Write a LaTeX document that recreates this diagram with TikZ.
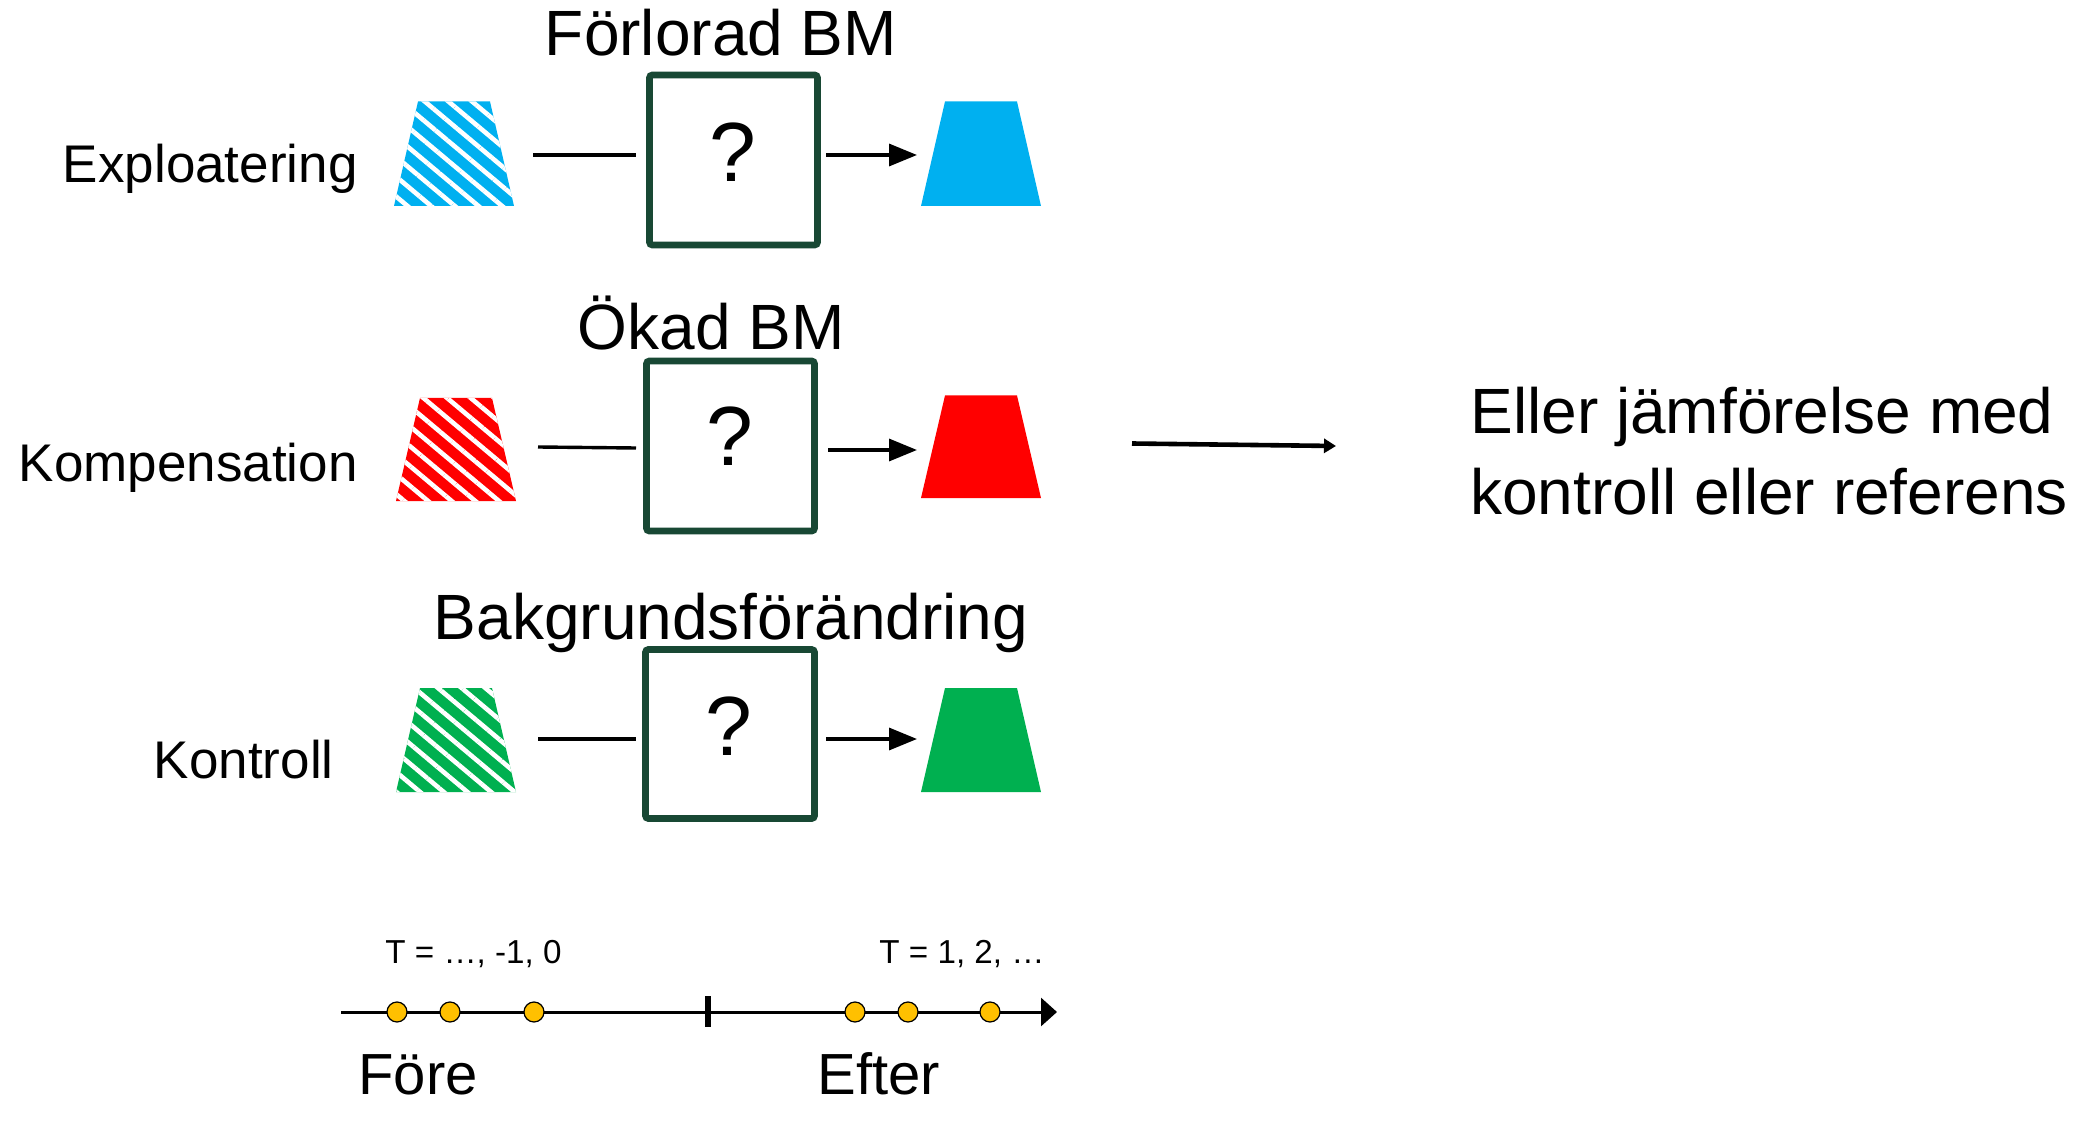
\documentclass[tikz,border=0pt]{standalone}
\usepackage{fontspec}
\setmainfont{Liberation Sans}
\usetikzlibrary{arrows.meta,patterns.meta,shapes.geometric}
\definecolor{cblue}{RGB}{0,176,240}
\definecolor{cred}{RGB}{255,0,0}
\definecolor{cgreen}{RGB}{0,176,80}
\definecolor{boxgreen}{RGB}{24,72,52}
\definecolor{dotyellow}{RGB}{255,192,0}
\newcommand\mytrap[4]{% cx, ytop, ybot, style
  \path[#4] (#1-60,#3) -- (#1+60,#3) -- (#1+36,#2) -- (#1-36,#2) -- cycle;}
\newcommand\myhatch[4]{% cx, ytop, ybot, colour
  \fill[#4] (#1-60,#3) -- (#1+60,#3) -- (#1+36,#2) -- (#1-36,#2) -- cycle;
  \fill[pattern={Lines[angle=-40,distance=7.6pt,line width=2.3pt]},pattern color=white]
    (#1-60,#3) -- (#1+60,#3) -- (#1+36,#2) -- (#1-36,#2) -- cycle;}
\begin{document}
\begin{tikzpicture}[x=0.5pt,y=-0.5pt,
  qbox/.style={draw=boxgreen,line width=3.4pt,rounded corners=1.5pt,inner sep=0pt},
  qmark/.style={inner sep=0pt,font=\fontsize{42}{42}\selectfont},
  title/.style={anchor=base,inner sep=0pt,font=\fontsize{32}{38}\selectfont},
  rowlabel/.style={anchor=base east,inner sep=0pt,font=\fontsize{26.5}{32}\selectfont},
  conn/.style={line width=1.7pt},
  arr/.style={line width=1.7pt,-{Triangle[length=14pt,width=11pt]}},
  tdot/.style={draw=black,line width=0.6pt,fill=dotyellow,circle,minimum size=10pt,inner sep=0pt},
  tlabel/.style={anchor=base,inner sep=0pt,font=\fontsize{16.6}{20}\selectfont},
  big/.style={anchor=base,inner sep=0pt,font=\fontsize{29}{34}\selectfont}]
\useasboundingbox (0,0) rectangle (2095,1134);

% ---- row 1
\node[title] (t1) at (721,56) {Förlorad BM};
\node[rowlabel] (lab1) at (358,183) {Exploatering};
\node[qbox,minimum width=84pt,minimum height=85pt] (b1) at (733.5,160) {};
\node[qmark] (q1) at (733,152) {?};
\myhatch{454}{101.5}{206}{cblue}
\mytrap{981}{101.5}{206}{fill=cblue}
\coordinate (a1) at (533,155); \coordinate (a1e) at (636,155);
\coordinate (c1) at (826,155); \coordinate (c1e) at (917,155);
\draw[conn] (a1) -- (a1e);
\draw[arr] (c1) -- (c1e);

% ---- row 2
\node[title] (t2) at (711,350) {Ökad BM};
\node[rowlabel] (lab2) at (358,481) {Kompensation};
\node[qbox,minimum width=84pt,minimum height=85pt] (b2) at (730.5,446) {};
\node[qmark] (q2) at (730,436) {?};
\myhatch{456}{398}{501}{cred}
\mytrap{981}{395.5}{498}{fill=cred}
\coordinate (a2) at (538,447); \coordinate (a2e) at (636,448);
\coordinate (c2) at (828,450); \coordinate (c2e) at (917,450);
\draw[conn] (a2) -- (a2e);
\draw[arr] (c2) -- (c2e);
\coordinate (d1) at (1132,443.5); \coordinate (d1e) at (1336,446);
\draw[line width=2.3pt,-{Triangle[length=6pt,width=7pt]}] (d1) -- (d1e);
\node[anchor=base west,inner sep=0pt,font=\fontsize{32}{38}\selectfont] (r1) at (1470,434) {Eller jämförelse med};
\node[anchor=base west,inner sep=0pt,font=\fontsize{32}{38}\selectfont] (r2) at (1470,514) {kontroll eller referens};

% ---- row 3
\node[title] (t3) at (731,639) {Bakgrundsförändring};
\node[rowlabel] (lab3) at (334,778) {Kontroll};
\node[qbox,minimum width=84.5pt,minimum height=84.5pt] (b3) at (730,734) {};
\node[qmark] (q3) at (729,726) {?};
\myhatch{456}{688}{792}{cgreen}
\mytrap{981}{688}{792}{fill=cgreen}
\coordinate (a3) at (538,739); \coordinate (a3e) at (636,739);
\coordinate (c3) at (826,739); \coordinate (c3e) at (917,739);
\draw[conn] (a3) -- (a3e);
\draw[arr] (c3) -- (c3e);

% ---- timeline
\coordinate (ax0) at (341,1012); \coordinate (ax1) at (1057,1012);
\draw[line width=1.5pt,-{Triangle[length=8pt,width=14pt]}] (ax0) -- (ax1);
\coordinate (tk0) at (708,996); \coordinate (tk1) at (708,1027);
\draw[line width=2.6pt] (tk0) -- (tk1);
\foreach \n/\x in {p1/397,p2/450,p3/534,p4/855,p5/908,p6/990}
  \node[tdot] (\n) at (\x,1012) {};
\node[tlabel,anchor=base west] (tl1) at (385,963) {T = …, -1, 0};
\node[tlabel,anchor=base east] (tl2) at (1045,963) {T = 1, 2, …};
\node[big] (fore) at (418,1094) {Före};
\node[big] (efter) at (879,1094) {Efter};
\end{tikzpicture}
\end{document}
